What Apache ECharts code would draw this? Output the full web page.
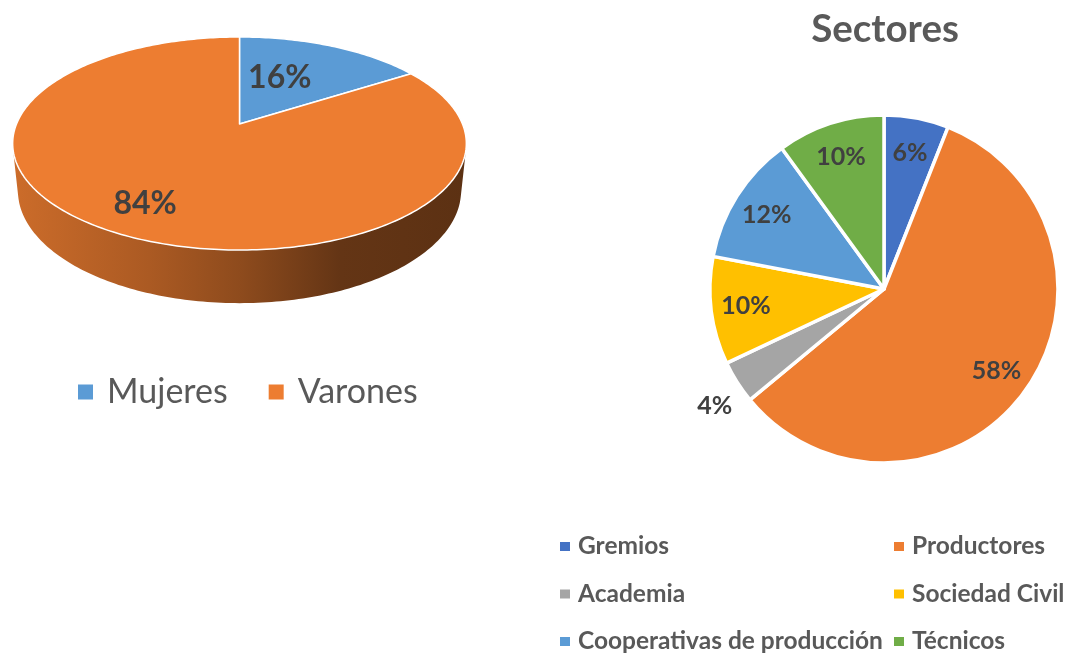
<!DOCTYPE html>
<html><head><meta charset="utf-8">
<script src="https://cdn.jsdelivr.net/npm/echarts@6/dist/echarts.min.js"></script>
<style>html,body{margin:0;padding:0;background:#fff}#c{width:1070px;height:653px}</style>
</head><body><div id="c"></div>
<script>
// ---- data ----
const genderNames = ['Mujeres', 'Varones'];
const genderValues = [16, 84];
const sectorTitle = 'Sectores';
const sectorNames = ['Gremios', 'Productores', 'Academia', 'Sociedad Civil', 'Cooperativas de producción', 'Técnicos'];
const sectorValues = [6, 58, 4, 10, 12, 10];

// ---- styles ----
const genderColors = ['#5B9BD5', '#ED7D31'];
const sectorColors = ['#4472C4', '#ED7D31', '#A5A5A5', '#FFC000', '#5B9BD5', '#70AD47'];
const FONT = 'Lato, "Open Sans", sans-serif';
const PIE3D = {cx: 239.5, cy: 124, k: 223, persp: 0.183, elevDeg: 27.5, depth: 0.24, gradX0: 13, gradX1: 467};
const label3d = {Mujeres: {r: 0.53, shift: -7}, Varones: {r: 0.77, shift: 0}};

function makeProjector(c) {
  const e = c.elevDeg * Math.PI / 180, ce = Math.cos(e), se = Math.sin(e);
  const D = ce / c.persp, F = c.k * D;
  return {
    proj(x, y, z) { const w = D + y * ce - z * se; const up = y * se + z * ce; return [c.cx + F * x / w, c.cy - F * up / w]; },
    visCos: -1 / (D * ce)
  };
}
function shade(hex, f) {
  const n = parseInt(hex.slice(1), 16);
  const r = Math.round(((n >> 16) & 255) * f), g = Math.round(((n >> 8) & 255) * f), b = Math.round((n & 255) * f);
  return 'rgb(' + r + ',' + g + ',' + b + ')';
}
function wallStops(color) {
  return [[0, 0.86], [0.3, 0.72], [0.5, 0.6], [0.72, 0.42], [1, 0.39]].map(s => ({offset: s[0], color: shade(color, s[1])}));
}
function render3dSlice(idx) {
  return function (params, api) {
    const total = genderValues.reduce((a, b) => a + b, 0);
    let before = 0; for (let j = 0; j < idx; j++) before += genderValues[j];
    const v = api.value(0);
    const a0 = before / total * 2 * Math.PI, a1 = (before + v) / total * 2 * Math.PI;
    const pr = makeProjector(PIE3D);
    const arc = (from, to, z) => {
      const n = Math.max(2, Math.ceil(Math.abs(to - from) / (Math.PI / 180)));
      const pts = [];
      for (let s = 0; s <= n; s++) { const t = from + (to - from) * s / n; pts.push(pr.proj(Math.sin(t), Math.cos(t), z)); }
      return pts;
    };
    const color = genderColors[idx];
    const children = [];
    const vmin = Math.acos(pr.visCos), vmax = 2 * Math.PI - vmin;
    const lo = Math.max(a0, vmin), hi = Math.min(a1, vmax);
    if (hi > lo) {
      const pts = arc(lo, hi, 0).concat(arc(hi, lo, -PIE3D.depth));
      children.push({type: 'polygon', shape: {points: pts}, z2: 1,
        style: {fill: new echarts.graphic.LinearGradient(PIE3D.gradX0, 0, PIE3D.gradX1, 0, wallStops(color), true)}});
    }
    const top = [pr.proj(0, 0, 0)].concat(arc(a0, a1, 0));
    children.push({type: 'polygon', shape: {points: top}, z2: 5, style: {fill: color, stroke: '#fff', lineWidth: 1.5, lineJoin: 'round'}});
    const lab = label3d[genderNames[idx]];
    const mid = (a0 + a1) / 2 + lab.shift * Math.PI / 180;
    const p = pr.proj(lab.r * Math.sin(mid), lab.r * Math.cos(mid), 0);
    children.push({type: 'text', x: p[0], y: p[1], z2: 10,
      style: {text: v + '%', align: 'center', verticalAlign: 'middle', fontFamily: FONT, fontWeight: 'bold', fontSize: 32, fill: '#404040'}});
    return {type: 'group', children};
  };
}

const chart = echarts.init(document.getElementById('c'), null, {renderer: 'canvas', width: 1070, height: 653});
const sectorData = sectorNames.map((n, i) => ({name: n, value: sectorValues[i]}));
const isSmall = v => v < 5;

const series = genderNames.map((n, i) => ({
  type: 'custom', name: n, coordinateSystem: 'none', data: [genderValues[i]],
  itemStyle: {color: genderColors[i]}, renderItem: render3dSlice(i), silent: true
}));
series.push({
  type: 'pie', name: sectorTitle, center: [884, 289], radius: 174, startAngle: 90, clockwise: true,
  color: sectorColors, silent: true, emphasis: {disabled: true},
  itemStyle: {borderColor: '#fff', borderWidth: 3.5},
  label: {show: false}, labelLine: {show: false},
  data: sectorData.map(d => isSmall(d.value) ? Object.assign({}, d, {
    label: {show: true, position: 'outside', formatter: '\n{c}%', fontFamily: FONT, fontWeight: 'bold', fontSize: 25,
      lineHeight: 46, color: '#404040', distanceToLabelLine: 0, padding: [0, 4, 0, 0]},
    labelLine: {show: false, length: 1, length2: 0}
  }) : d)
});
series.push({
  type: 'pie', name: sectorTitle + ' labels', center: [884, 289], radius: 272, startAngle: 90, clockwise: true,
  silent: true, emphasis: {disabled: true},
  itemStyle: {color: 'rgba(0,0,0,0)', borderWidth: 0},
  label: {show: true, position: 'inside', formatter: '{c}%', fontFamily: FONT, fontWeight: 'bold', fontSize: 25, color: '#404040'},
  labelLine: {show: false},
  data: sectorData.map(d => isSmall(d.value) ? Object.assign({}, d, {label: {show: false}}) : d)
});

const sectorLegendBase = {orient: 'vertical', top: 534, height: 150, padding: 0, itemWidth: 12, itemHeight: 11, itemGap: 22.5, icon: 'rect', selectedMode: false,
  textStyle: {fontFamily: FONT, fontSize: 24.5, fontWeight: 'bold', color: '#595959', padding: [0, 0, 0, 2]}};

chart.setOption({
  animation: false,
  backgroundColor: '#fff',
  title: {text: sectorTitle, left: 885, top: 10, textAlign: 'center', padding: 0,
    textStyle: {fontFamily: FONT, fontWeight: 'bold', fontSize: 38.5, color: '#595959'}},
  legend: [
    {data: genderNames, left: 78, top: 375, padding: 0, itemWidth: 15, itemHeight: 15, itemGap: 41, icon: 'rect', selectedMode: false,
      textStyle: {fontFamily: FONT, fontSize: 34, color: '#595959', padding: [0, 0, 0, 9]}},
    Object.assign({data: sectorNames.filter((_, i) => i % 2 === 0), left: 558}, sectorLegendBase),
    Object.assign({data: sectorNames.filter((_, i) => i % 2 === 1), left: 892}, sectorLegendBase)
  ],
  series: series
});
</script></body></html>
